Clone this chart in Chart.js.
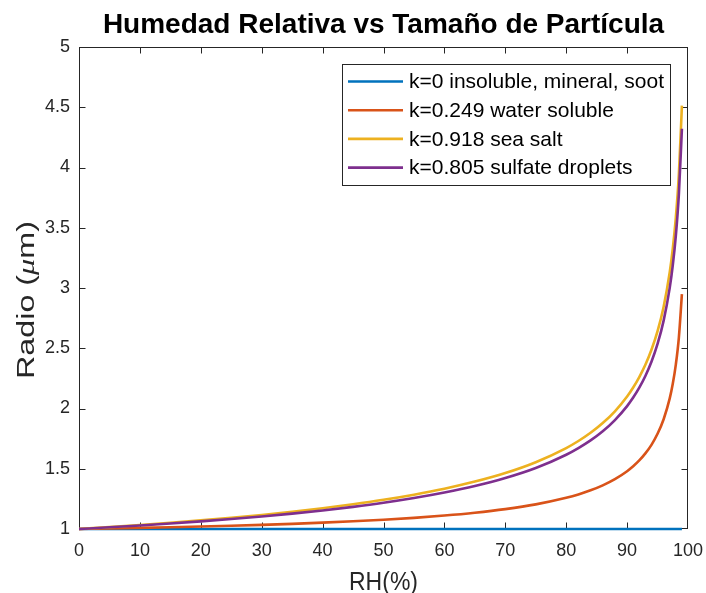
<!DOCTYPE html>
<html>
<head>
<meta charset="utf-8">
<script src="https://cdn.jsdelivr.net/npm/chart.js@4/dist/chart.umd.min.js"></script>
<style>
  html, body { margin: 0; padding: 0; background: #ffffff; }
  #wrap { width: 706px; height: 593px; }
  canvas { display: block; }
</style>
</head>
<body>
<div id="wrap"><canvas id="c" width="706" height="593"></canvas></div>
<script>
// ---- data ----
const rh = [0,5,10,15,20,25,30,35,40,45,50,55,60,65,70,75,80,82,84,86,88,90,91,92,93,94,95,96,97,97.5,98,98.5,99];
const rhInsoluble = [0, 99];
const radioInsoluble = [1, 1];
const radioWaterSoluble = [1,1.0044,1.0091,1.0144,1.0203,1.0270,1.0344,1.0428,1.0525,1.0637,1.0769,1.0926,1.1116,1.1352,1.1652,1.2045,1.2592,1.2870,1.3211,1.3626,1.4138,1.4798,1.5204,1.5687,1.6273,1.6986,1.7900,1.9109,2.0836,2.2047,2.3643,2.5890,2.9493];
const radioSeaSalt = [1,1.0159,1.0329,1.0513,1.0713,1.0930,1.1168,1.1432,1.1725,1.2053,1.2424,1.2850,1.3343,1.3933,1.4645,1.5544,1.6718,1.7303,1.7986,1.8795,1.9770,2.0998,2.1745,2.2611,2.3625,2.4870,2.6418,2.8453,3.1316,3.3264,3.5829,3.9430,4.5133];
const radioSulfate = [1,1.0139,1.0290,1.0453,1.0630,1.0824,1.1038,1.1275,1.1539,1.1839,1.2176,1.2566,1.3022,1.3561,1.4226,1.5059,1.6164,1.6715,1.7354,1.8113,1.9041,2.0200,2.0906,2.1728,2.2703,2.3880,2.5354,2.7294,3.0011,3.1875,3.4327,3.7773,4.3212];
const seriesLabels = ['k=0 insoluble, mineral, soot','k=0.249 water soluble','k=0.918 sea salt','k=0.805 sulfate droplets'];
const xTicks = [0,10,20,30,40,50,60,70,80,90,100];
const yTicks = [1,1.5,2,2.5,3,3.5,4,4.5,5];
const titleText = 'Humedad Relativa vs Tamaño de Partícula';
const xTitle = 'RH(%)';

// ---- styles ----
const FONT = '"Liberation Sans", Arial, Helvetica, sans-serif';
const AXIS_COLOR = '#262626';
const colors = ['#0072BD', '#D95319', '#EDB120', '#7E2F8E'];

function pts(xs, ys) { return xs.map((x, i) => ({ x: x, y: ys[i] })); }

const decor = {
  id: 'decor',
  beforeDatasetsDraw(chart) {
    const { ctx, chartArea: a, scales: { x, y } } = chart;
    const L = Math.round(a.left) + 0.5, R = Math.round(a.right) - 0.5;
    const T = Math.round(a.top) + 0.5, B = Math.round(a.bottom) - 0.5;
    ctx.save();
    ctx.strokeStyle = AXIS_COLOR;
    ctx.lineWidth = 1;
    ctx.strokeRect(L, T, R - L, B - T);
    const tl = 6;
    ctx.beginPath();
    xTicks.forEach(v => {
      const px = Math.min(R, Math.max(L, Math.round(x.getPixelForValue(v)) + 0.5));
      ctx.moveTo(px, B); ctx.lineTo(px, B - tl);
      ctx.moveTo(px, T); ctx.lineTo(px, T + tl);
    });
    yTicks.forEach(v => {
      const py = Math.min(B, Math.max(T, Math.round(y.getPixelForValue(v)) + 0.5));
      ctx.moveTo(L, py); ctx.lineTo(L + tl, py);
      ctx.moveTo(R, py); ctx.lineTo(R - tl, py);
    });
    ctx.stroke();
    ctx.restore();
  },
  afterDraw(chart) {
    const { ctx, chartArea: a } = chart;
    const cx = (a.left + a.right) / 2;
    ctx.save();
    // title
    ctx.fillStyle = '#000000';
    ctx.font = 'bold 28px ' + FONT;
    ctx.textAlign = 'center';
    ctx.textBaseline = 'alphabetic';
    ctx.fillText(titleText, cx, 33);
    // x title (slightly tall glyphs as in the reference)
    ctx.fillStyle = AXIS_COLOR;
    ctx.font = '23px ' + FONT;
    ctx.save();
    ctx.translate(cx, 590);
    ctx.scale(1, 1.15);
    ctx.fillText(xTitle, 0, 0);
    ctx.restore();
    // y title with italic mu, stretched along reading direction
    const parts = [
      { t: 'Radio (', f: '23px ' + FONT },
      { t: 'μ', f: 'italic 23px "Liberation Serif", "DejaVu Serif", serif' },
      { t: 'm)', f: '23px ' + FONT }
    ];
    let total = 0;
    parts.forEach(p => { ctx.font = p.f; p.w = ctx.measureText(p.t).width; total += p.w; });
    const stretch = 158 / total;
    ctx.translate(34, 300);
    ctx.rotate(-Math.PI / 2);
    ctx.scale(stretch, 1);
    ctx.textAlign = 'left';
    let xx = -total / 2;
    parts.forEach(p => { ctx.font = p.f; ctx.fillText(p.t, xx, 0); xx += p.w; });
    ctx.restore();

    // legend
    ctx.save();
    const bx = 342.5, by = 64.5, bw = 328, bh = 121;
    ctx.fillStyle = '#ffffff';
    ctx.fillRect(bx, by, bw, bh);
    ctx.strokeStyle = AXIS_COLOR;
    ctx.lineWidth = 1;
    ctx.strokeRect(bx, by, bw, bh);
    ctx.font = '21px ' + FONT;
    ctx.textAlign = 'left';
    ctx.textBaseline = 'middle';
    const ds = chart.data.datasets;
    const rowH = 28.7, y0 = 81.5;
    ds.forEach((d, i) => {
      const yy = y0 + i * rowH;
      ctx.strokeStyle = d.borderColor;
      ctx.lineWidth = 2.6;
      ctx.beginPath();
      ctx.moveTo(348, yy); ctx.lineTo(403, yy);
      ctx.stroke();
      ctx.fillStyle = '#000000';
      ctx.fillText(d.label, 409, yy + 1);
    });
    ctx.restore();
  }
};

const datasets = [
  { label: seriesLabels[0], data: pts(rhInsoluble, radioInsoluble), borderColor: colors[0], order: 4 },
  { label: seriesLabels[1], data: pts(rh, radioWaterSoluble), borderColor: colors[1], order: 3 },
  { label: seriesLabels[2], data: pts(rh, radioSeaSalt), borderColor: colors[2], order: 2 },
  { label: seriesLabels[3], data: pts(rh, radioSulfate), borderColor: colors[3], order: 1 }
].map(d => Object.assign(d, {
  borderWidth: 2.6, pointRadius: 0, fill: false, clip: false,
  cubicInterpolationMode: 'monotone', backgroundColor: d.borderColor
}));

new Chart(document.getElementById('c'), {
  type: 'line',
  data: { datasets },
  options: {
    responsive: false,
    animation: false,
    devicePixelRatio: 1,
    layout: { padding: { left: 0, right: 18, top: 47, bottom: 0 } },
    plugins: { legend: { display: false }, tooltip: { enabled: false }, title: { display: false } },
    scales: {
      x: {
        type: 'linear', min: 0, max: 100,
        afterFit: s => { s.height = 64; s.paddingRight = 0; },
        afterBuildTicks: s => { s.ticks = xTicks.map(v => ({ value: v })); },
        ticks: { stepSize: 10, color: AXIS_COLOR, font: { family: FONT, size: 18 }, padding: 11, maxRotation: 0, autoSkip: false, callback: v => String(v) },
        grid: { display: false, drawTicks: false, tickLength: 0 }, border: { display: false }
      },
      y: {
        type: 'linear', min: 1, max: 5,
        afterFit: s => { s.width = 79; s.paddingTop = 0; s.paddingBottom = 0; },
        afterBuildTicks: s => { s.ticks = yTicks.map(v => ({ value: v })); },
        ticks: { stepSize: 0.5, color: AXIS_COLOR, font: { family: FONT, size: 18 }, padding: 9, autoSkip: false, callback: v => String(v) },
        grid: { display: false, drawTicks: false, tickLength: 0 }, border: { display: false }
      }
    }
  },
  plugins: [decor]
});
</script>
</body>
</html>
